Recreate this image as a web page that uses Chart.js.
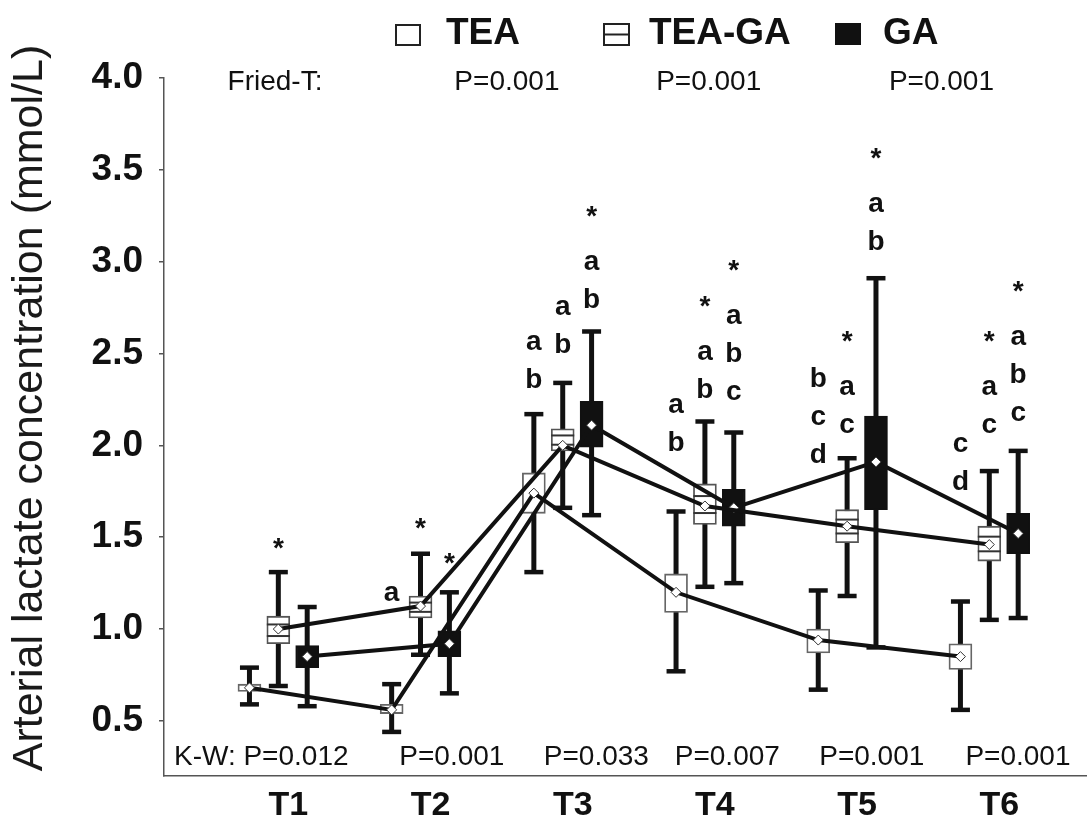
<!DOCTYPE html>
<html>
<head>
<meta charset="utf-8">
<script src="https://cdn.jsdelivr.net/npm/chart.js@4.4.1/dist/chart.umd.min.js"></script>
<style>
  html, body { margin: 0; padding: 0; background: #fff; }
  #wrap { width: 1092px; height: 821px; }
</style>
</head>
<body>
<div id="wrap"><canvas id="lactateChart" width="1092" height="821"></canvas></div>
<script>
// Time points, groups and axis ticks
const timeLabels = ['T1', 'T2', 'T3', 'T4', 'T5', 'T6'];
const groupNames = ['TEA', 'TEA-GA', 'GA'];
const yTicks = [0.5, 1.0, 1.5, 2.0, 2.5, 3.0, 3.5, 4.0];

// TEA (mmol/L): whisker low, box low, mean, box high, whisker high
const teaLow  = [0.59, 0.44, 1.31, 0.77, 0.67, 0.56];
const teaQ1   = [0.66, 0.54, 1.63, 1.09, 0.87, 0.78];
const teaMean = [0.68, 0.56, 1.74, 1.20, 0.94, 0.85];
const teaQ3   = [0.70, 0.59, 1.85, 1.30, 1.00, 0.92];
const teaHigh = [0.79, 0.70, 2.17, 1.64, 1.21, 1.15];

// TEA-GA
const teagaLow  = [0.69, 0.86, 1.66, 1.23, 1.18, 1.05];
const teagaQ1   = [0.92, 1.06, 1.97, 1.57, 1.47, 1.37];
const teagaMean = [1.00, 1.125, 2.00, 1.67, 1.56, 1.46];
const teagaQ3   = [1.07, 1.18, 2.09, 1.79, 1.65, 1.56];
const teagaHigh = [1.31, 1.41, 2.34, 2.13, 1.93, 1.86];

// GA
const gaLow  = [0.58, 0.65, 1.62, 1.25, 0.90, 1.06];
const gaQ1   = [0.79, 0.85, 1.99, 1.56, 1.65, 1.41];
const gaMean = [0.85, 0.92, 2.11, 1.66, 1.91, 1.52];
const gaQ3   = [0.91, 0.99, 2.24, 1.76, 2.16, 1.63];
const gaHigh = [1.12, 1.20, 2.62, 2.07, 2.91, 1.97];

// Significance marks per time point (read bottom-up, base = value of the lowest mark)
const teaMarks   = ['', 'a', 'ab', 'ab', 'bcd', 'cd'];
const teaMarkY   = [null, 1.196, 2.353, 2.011, 1.946, 1.799];
const teagaMarks = ['*', '*', 'ab', '*ab', '*ac', '*ac'];
const teagaMarkY = [1.474, 1.583, 2.543, 2.299, 2.109, 2.109];
const gaMarks    = ['', '*', '*ab', '*abc', '*ab', '*abc'];
const gaMarkY    = [null, 1.393, 2.788, 2.288, 3.103, 2.174];

// Test results
const friedText = ['Fried-T:', 'P=0.001', 'P=0.001', 'P=0.001'];
const friedX    = [0.643, 2.238, 3.657, 5.294];
const kwText    = ['K-W: P=0.012', 'P=0.001', 'P=0.033', 'P=0.007', 'P=0.001', 'P=0.001'];
const kwX       = [0.266, 1.851, 2.867, 3.788, 4.804, 5.832];

const FONT = '"Liberation Sans", Arial, Helvetica, sans-serif';
const groupOffset = [-0.203, 0, 0.203];

const groups = [
    { low: teaLow, q1: teaQ1, mean: teaMean, q3: teaQ3, high: teaHigh, marks: teaMarks, markY: teaMarkY },
    { low: teagaLow, q1: teagaQ1, mean: teagaMean, q3: teagaQ3, high: teagaHigh, marks: teagaMarks, markY: teagaMarkY },
    { low: gaLow, q1: gaQ1, mean: gaMean, q3: gaQ3, high: gaHigh, marks: gaMarks, markY: gaMarkY }
];

function xPos(g, i) {
    return i + 1 + groupOffset[g];
}

// Whiskers go under the boxes
const whiskerPlugin = {
    id: 'whiskers',
    beforeDatasetsDraw(chart) {
        const { ctx, scales: { x, y } } = chart;
        ctx.save();
        ctx.strokeStyle = '#111';
        groups.forEach((grp, g) => {
            timeLabels.forEach((t, i) => {
                const px = x.getPixelForValue(xPos(g, i));
                const yLo = y.getPixelForValue(grp.low[i]);
                const yHi = y.getPixelForValue(grp.high[i]);
                ctx.lineWidth = 5;
                ctx.beginPath();
                ctx.moveTo(px, yLo);
                ctx.lineTo(px, yHi);
                ctx.stroke();
                ctx.lineWidth = 4.5;
                [yLo, yHi].forEach(yy => {
                    ctx.beginPath();
                    ctx.moveTo(px - 9.5, yy);
                    ctx.lineTo(px + 9.5, yy);
                    ctx.stroke();
                });
            });
        });
        ctx.restore();
    },
    // striped TEA-GA boxes
    afterDatasetDraw(chart, args) {
        const ds = chart.data.datasets[args.index];
        if (!ds.striped) return;
        const ctx = chart.ctx;
        ctx.save();
        ctx.strokeStyle = '#333';
        ctx.lineWidth = 2;
        args.meta.data.forEach(bar => {
            const top = Math.min(bar.y, bar.base);
            const h = Math.abs(bar.base - bar.y);
            [0.3, 0.72].forEach(f => {
                const yy = top + h * f;
                ctx.beginPath();
                ctx.moveTo(bar.x - bar.width / 2, yy);
                ctx.lineTo(bar.x + bar.width / 2, yy);
                ctx.stroke();
            });
        });
        ctx.restore();
    }
};

function drawStack(ctx, px, baseY, text) {
    let yy = baseY;
    for (let k = text.length - 1; k >= 0; k--) {
        const ch = text[k];
        if (k < text.length - 1) yy -= (ch === '*') ? 52 : 38;
        ctx.fillText(ch, px, ch === '*' ? yy + 7 : yy);
    }
}

// Legend, test results, letters and the y title
const textPlugin = {
    id: 'texts',
    afterDraw(chart) {
        const { ctx, scales: { x, y } } = chart;
        ctx.save();
        ctx.fillStyle = '#111';
        ctx.strokeStyle = '#222';

        // legend
        ctx.font = 'bold 37px ' + FONT;
        ctx.textAlign = 'left';
        ctx.textBaseline = 'alphabetic';
        ctx.lineWidth = 2;
        ctx.strokeRect(396, 25, 24, 20);
        ctx.fillText(groupNames[0], 446, 44);
        ctx.strokeRect(604, 24, 25, 21);
        ctx.beginPath();
        ctx.moveTo(604, 34.5);
        ctx.lineTo(629, 34.5);
        ctx.stroke();
        ctx.fillText(groupNames[1], 649, 44);
        ctx.fillRect(835, 23, 26, 22);
        ctx.fillText(groupNames[2], 883, 44);

        // Friedman and Kruskal-Wallis rows
        ctx.font = '28px ' + FONT;
        ctx.textBaseline = 'middle';
        friedText.forEach((s, i) => ctx.fillText(s, x.getPixelForValue(friedX[i]), 82));
        kwText.forEach((s, i) => ctx.fillText(s, x.getPixelForValue(kwX[i]), 757));

        // significance letters
        ctx.font = 'bold 28px ' + FONT;
        ctx.textAlign = 'center';
        groups.forEach((grp, g) => {
            grp.marks.forEach((m, i) => {
                if (!m) return;
                drawStack(ctx, x.getPixelForValue(xPos(g, i)), y.getPixelForValue(grp.markY[i]), m);
            });
        });

        // y axis title
        ctx.translate(30, 408);
        ctx.rotate(-Math.PI / 2);
        ctx.font = '43px ' + FONT;
        ctx.fillStyle = '#1a1a1a';
        ctx.fillText('Arterial lactate concentration (mmol/L)', 0, 0);
        ctx.restore();
    }
};

const boxColors = [
    { bg: '#fff', border: '#666' },
    { bg: '#fff', border: '#555' },
    { bg: '#111', border: '#111' }
];

const datasets = [];
groups.forEach((grp, g) => {
    datasets.push({
        type: 'bar',
        label: groupNames[g] + ' box',
        order: 2,
        striped: g === 1,
        data: timeLabels.map((t, i) => ({ x: xPos(g, i), y: [grp.q1[i], grp.q3[i]] })),
        backgroundColor: boxColors[g].bg,
        borderColor: boxColors[g].border,
        borderWidth: 1.8,
        borderSkipped: false,
        barThickness: 23,
        grouped: false
    });
});
groups.forEach((grp, g) => {
    datasets.push({
        type: 'line',
        label: groupNames[g],
        order: 1,
        data: timeLabels.map((t, i) => ({ x: xPos(g, i), y: grp.mean[i] })),
        borderColor: '#111',
        borderWidth: 4,
        tension: 0,
        pointStyle: 'rectRot',
        pointRadius: 5,
        pointBackgroundColor: '#fff',
        pointBorderColor: '#333',
        pointBorderWidth: 1
    });
});

new Chart(document.getElementById('lactateChart'), {
    type: 'line',
    data: { datasets: datasets },
    plugins: [whiskerPlugin, textPlugin],
    options: {
        responsive: false,
        animation: false,
        devicePixelRatio: 1,
        layout: { padding: { top: 78, right: 0, bottom: 0, left: 0 } },
        plugins: {
            legend: { display: false },
            tooltip: { enabled: false }
        },
        scales: {
            x: {
                type: 'linear',
                min: 0.196,
                max: 6.68,
                offset: false,
                afterBuildTicks: scale => { scale.ticks = timeLabels.map((t, i) => ({ value: i + 1 })); },
                afterFit: scale => { scale.height = 45; },
                grid: { drawOnChartArea: false, drawTicks: false },
                border: { display: true, color: '#555', width: 1.5 },
                ticks: {
                    callback: v => timeLabels[Math.round(v) - 1],
                    font: { family: FONT, size: 34, weight: 'bold' },
                    color: '#111',
                    padding: 9,
                    labelOffset: 10,
                    maxRotation: 0,
                    autoSkip: false
                }
            },
            y: {
                min: 0.2,
                max: 4.0,
                afterBuildTicks: scale => { scale.ticks = yTicks.map(v => ({ value: v })); },
                afterFit: scale => { scale.width = 164; },
                grid: { drawOnChartArea: false, tickLength: 5, color: '#555', lineWidth: 1.5 },
                border: { display: true, color: '#555', width: 1.5 },
                ticks: {
                    callback: v => v.toFixed(1),
                    font: { family: FONT, size: 37, weight: 'bold' },
                    color: '#111',
                    padding: 16
                }
            }
        }
    }
});
</script>
</body>
</html>
